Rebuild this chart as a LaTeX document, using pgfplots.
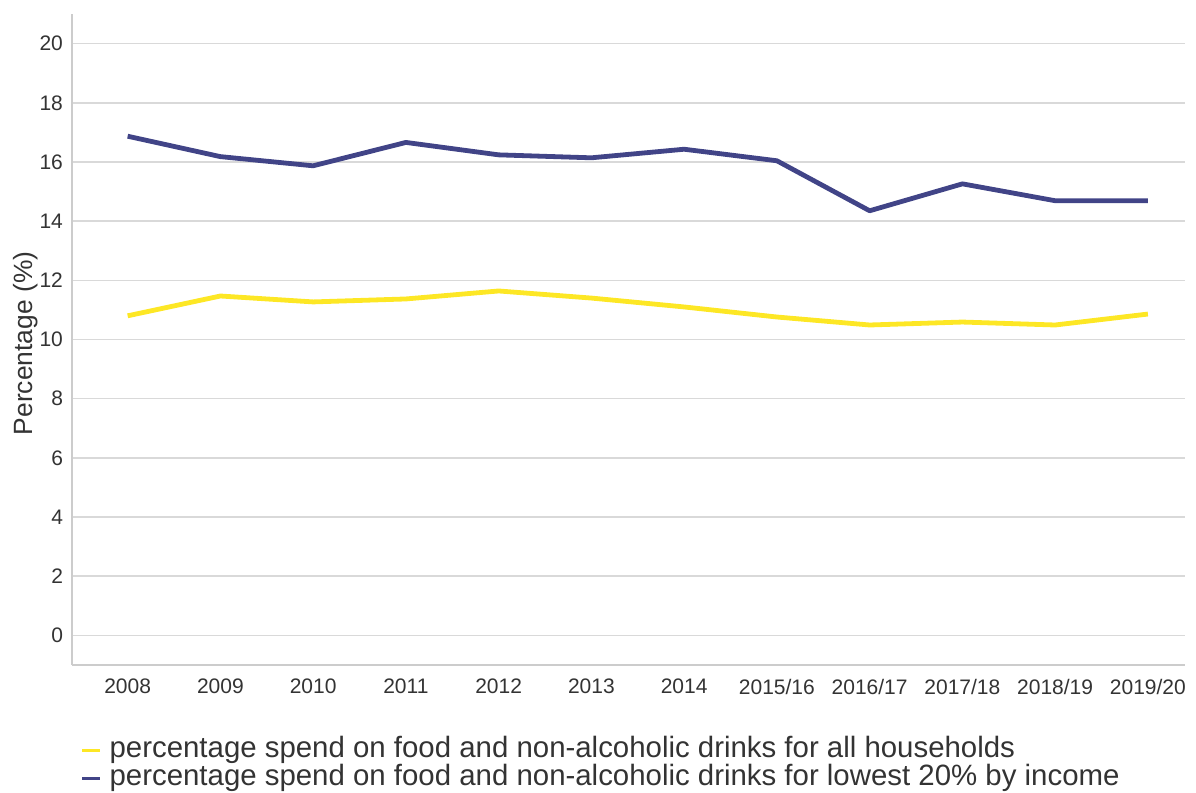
\documentclass[border=0pt]{standalone}
\usepackage{pgfplots}
\pgfplotsset{compat=1.18}
\usepackage{fontspec}
\setmainfont{Liberation Sans}
\definecolor{vblue}{HTML}{414487}
\definecolor{vyellow}{HTML}{FDE725}
\definecolor{txt}{HTML}{333333}
\definecolor{gridc}{HTML}{D9D9D9}
\definecolor{axc}{HTML}{CCCCCC}
\begin{document}
\begin{tikzpicture}
\useasboundingbox (-36pt,-64pt) rectangle (562pt,332.5pt);
\begin{axis}[
  at={(0,0)}, anchor=south west,
  scale only axis,
  width=556.5pt, height=325.5pt,
  xmin=-0.6, xmax=11.4,
  ymin=-1, ymax=21,
  xtick={0,...,11},
  xticklabels={2008,2009,2010,2011,2012,2013,2014,2015/16,2016/17,2017/18,2018/19,2019/20},
  ytick={0,2,...,20},
  axis x line*=bottom, axis y line*=left,
  axis line style={axc, line width=0.8pt, -},
  major tick length=0pt,
  ymajorgrids,
  grid style={gridc, line width=0.8pt},
  /pgf/number format/assume math mode=true,
  tick label style={font=\fontsize{10.5pt}{12pt}\selectfont, text=txt},
  xticklabel style={yshift=-3.5pt},
  yticklabel style={xshift=-1pt},
  ylabel={Percentage (\%)},
  every axis y label/.style={at={(axis description cs:-0.0413,0.494)}, rotate=90, anchor=center,
    font=\fontsize{13.2pt}{15pt}\selectfont, text=txt},
  legend style={at={(0.0072,-0.1106)}, anchor=north west, draw=none, fill=none,
    font=\fontsize{14.7pt}{16pt}\selectfont, text=txt,
    row sep=0pt, column sep=4pt, inner sep=0pt,
    nodes={inner sep=0pt, text height=10pt, text depth=4pt}},
  legend cell align=left,
  legend image code/.code={\draw[#1, line width=1.6pt] (0pt,0.5pt) -- (9pt,0.5pt);},
]
\addplot[vyellow, line width=2.4pt, line join=round] coordinates {
 (0,10.80) (1,11.47) (2,11.27) (3,11.37) (4,11.64) (5,11.40)
 (6,11.10) (7,10.76) (8,10.49) (9,10.59) (10,10.49) (11,10.86)};
\addlegendentry{percentage spend on food and non-alcoholic drinks for all households}
\addplot[vblue, line width=2.4pt, line join=round] coordinates {
 (0,16.87) (1,16.18) (2,15.87) (3,16.66) (4,16.24) (5,16.14)
 (6,16.43) (7,16.04) (8,14.35) (9,15.26) (10,14.69) (11,14.69)};
\addlegendentry{percentage spend on food and non-alcoholic drinks for lowest 20\% by income}
\end{axis}
\end{tikzpicture}
\end{document}
